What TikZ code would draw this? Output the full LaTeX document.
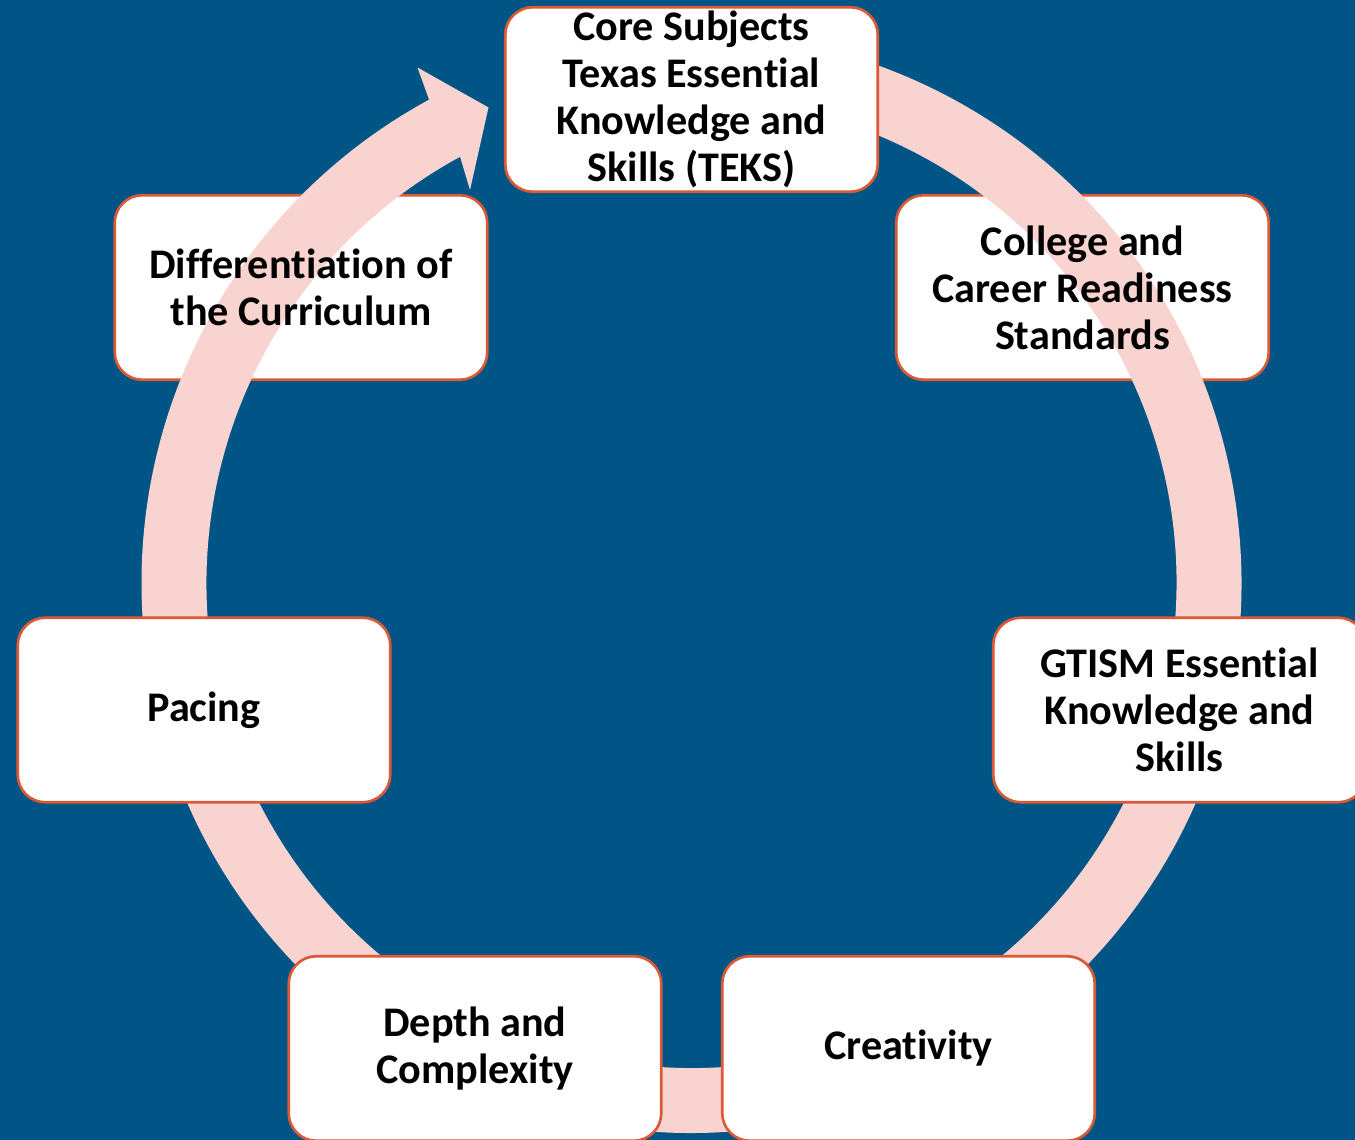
\documentclass[tikz,border=0pt]{standalone}
\usepackage{fontspec}
\setmainfont{Carlito}[Ligatures=NoCommon]
\usepackage{tikz}
\usetikzlibrary{calc,positioning,shapes}
\definecolor{slide}{RGB}{0,85,135}
\definecolor{ringpink}{RGB}{248,211,207}
\definecolor{edgeorange}{RGB}{219,89,52}
\tikzset{card/.style={draw=edgeorange,line width=1.5pt,fill=white,rounded
corners=0.55cm,minimum width=7.45cm,minimum height=3.69cm,inner
sep=0pt},txt/.style={align=center,text=black,font=\fontsize{24}{26.7}\selectfont\bfseries}}
\tikzstyle{ring}      = [fill=ringpink]

\begin{document}
\begin{tikzpicture}
		\fill[slide] (0,0) rectangle (27.1,22.8);
		\useasboundingbox (0,0) rectangle (27.1,22.8);
		\coordinate (C) at (13.83,11.14);

		% the ring runs over these two
		\node[card] (college) at (21.65,17.05) {};
		\node[card] (diff) at (6.02,17.05) {};

		% ring with its head
		\coordinate (tip) at (9.77,20.65);
		\coordinate (barbA) at (8.35,21.45);
		\coordinate (barbB) at (9.40,19.00);
		\fill[ring] ($(C)+(95:11)$) arc[start angle=95,end angle=-241.5,radius=11]
			-- (barbA) -- (tip) -- (barbB) -- ($(C)+(118.5:9.7)$)
			arc[start angle=118.5,end angle=455,radius=9.7] -- cycle;

		\begin{scope}[every node/.style={card,txt}]
			\node (core) at (13.83,20.81) {Core Subjects\\Texas Essential\\Knowledge and\\Skills (TEKS)};
			\node (gtism) at (23.59,8.6) {GTISM Essential\\Knowledge and\\Skills};
			\node (creat) at (18.17,1.83) {Creativity};
			\node (depth) at (9.5,1.83) {Depth and\\Complexity};
			\node (pacing) at (4.08,8.6) {Pacing};
		\end{scope}

		\node[txt] (college text) at (college) {College and\\Career Readiness\\Standards};
		\node[txt] (diff text) at (diff) {Differentiation of\\the Curriculum};
	\end{tikzpicture}
\end{document}
